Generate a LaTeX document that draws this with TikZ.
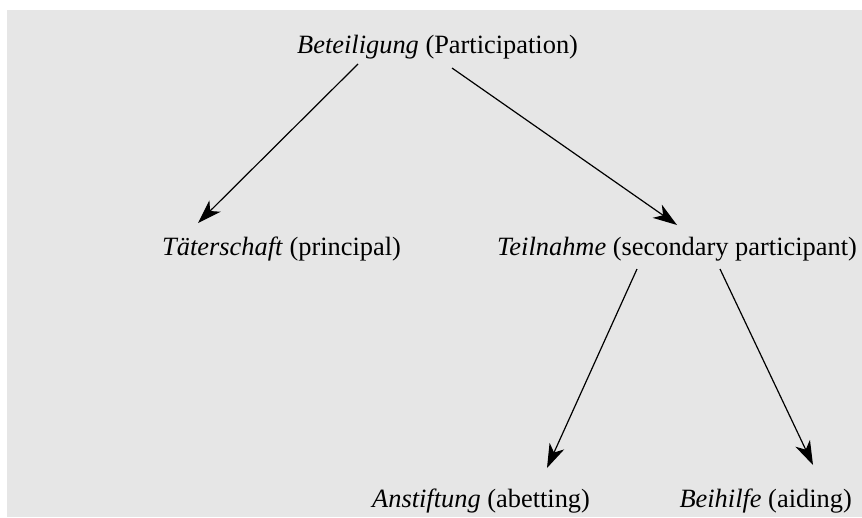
\documentclass[tikz,border=0pt]{standalone}
\usepackage{fontspec}
\setmainfont{Liberation Serif}
\usetikzlibrary{arrows.meta,calc}
\definecolor{bggray}{HTML}{E6E6E6}
\tikzset{
  lbl/.style={anchor=base west, inner sep=0pt, font=\fontsize{26.4}{30}\selectfont},
  arr/.style={line width=1.2pt, -{Stealth[length=24pt,width=16pt,inset=7pt]}}
}
\begin{document}
\begin{tikzpicture}[x=1pt,y=-1pt]
\useasboundingbox (0,0) rectangle (862,517);
\fill[white] (0,0) rectangle (862,517);
\fill[bggray] (7,10) rectangle (862,517);
\node[lbl] (bet) at (297,53) {\textit{Beteiligung} (Participation)};
\node[lbl] (tat) at (162,255) {\textit{Täterschaft} (principal)};
\node[lbl] (teil) at (497,255) {\textit{Teilnahme} (secondary participant)};
\node[lbl] (anst) at (372,507) {\textit{Anstiftung} (abetting)};
\node[lbl, anchor=base east] (bei) at (852,507) {\textit{Beihilfe} (aiding)};
\draw[arr] ($(bet.base west)+(61,11)$) -- ($(tat.base west)+(36,-32)$);
\draw[arr] ($(bet.base west)+(155,15)$) -- ($(teil.base west)+(180,-30)$);
\draw[arr] ($(teil.base west)+(140,14)$) -- ($(anst.base west)+(175,-39)$);
\draw[arr] ($(teil.base west)+(223,14)$) -- ($(bei.base east)+(-39,-42)$);
\end{tikzpicture}
\end{document}
